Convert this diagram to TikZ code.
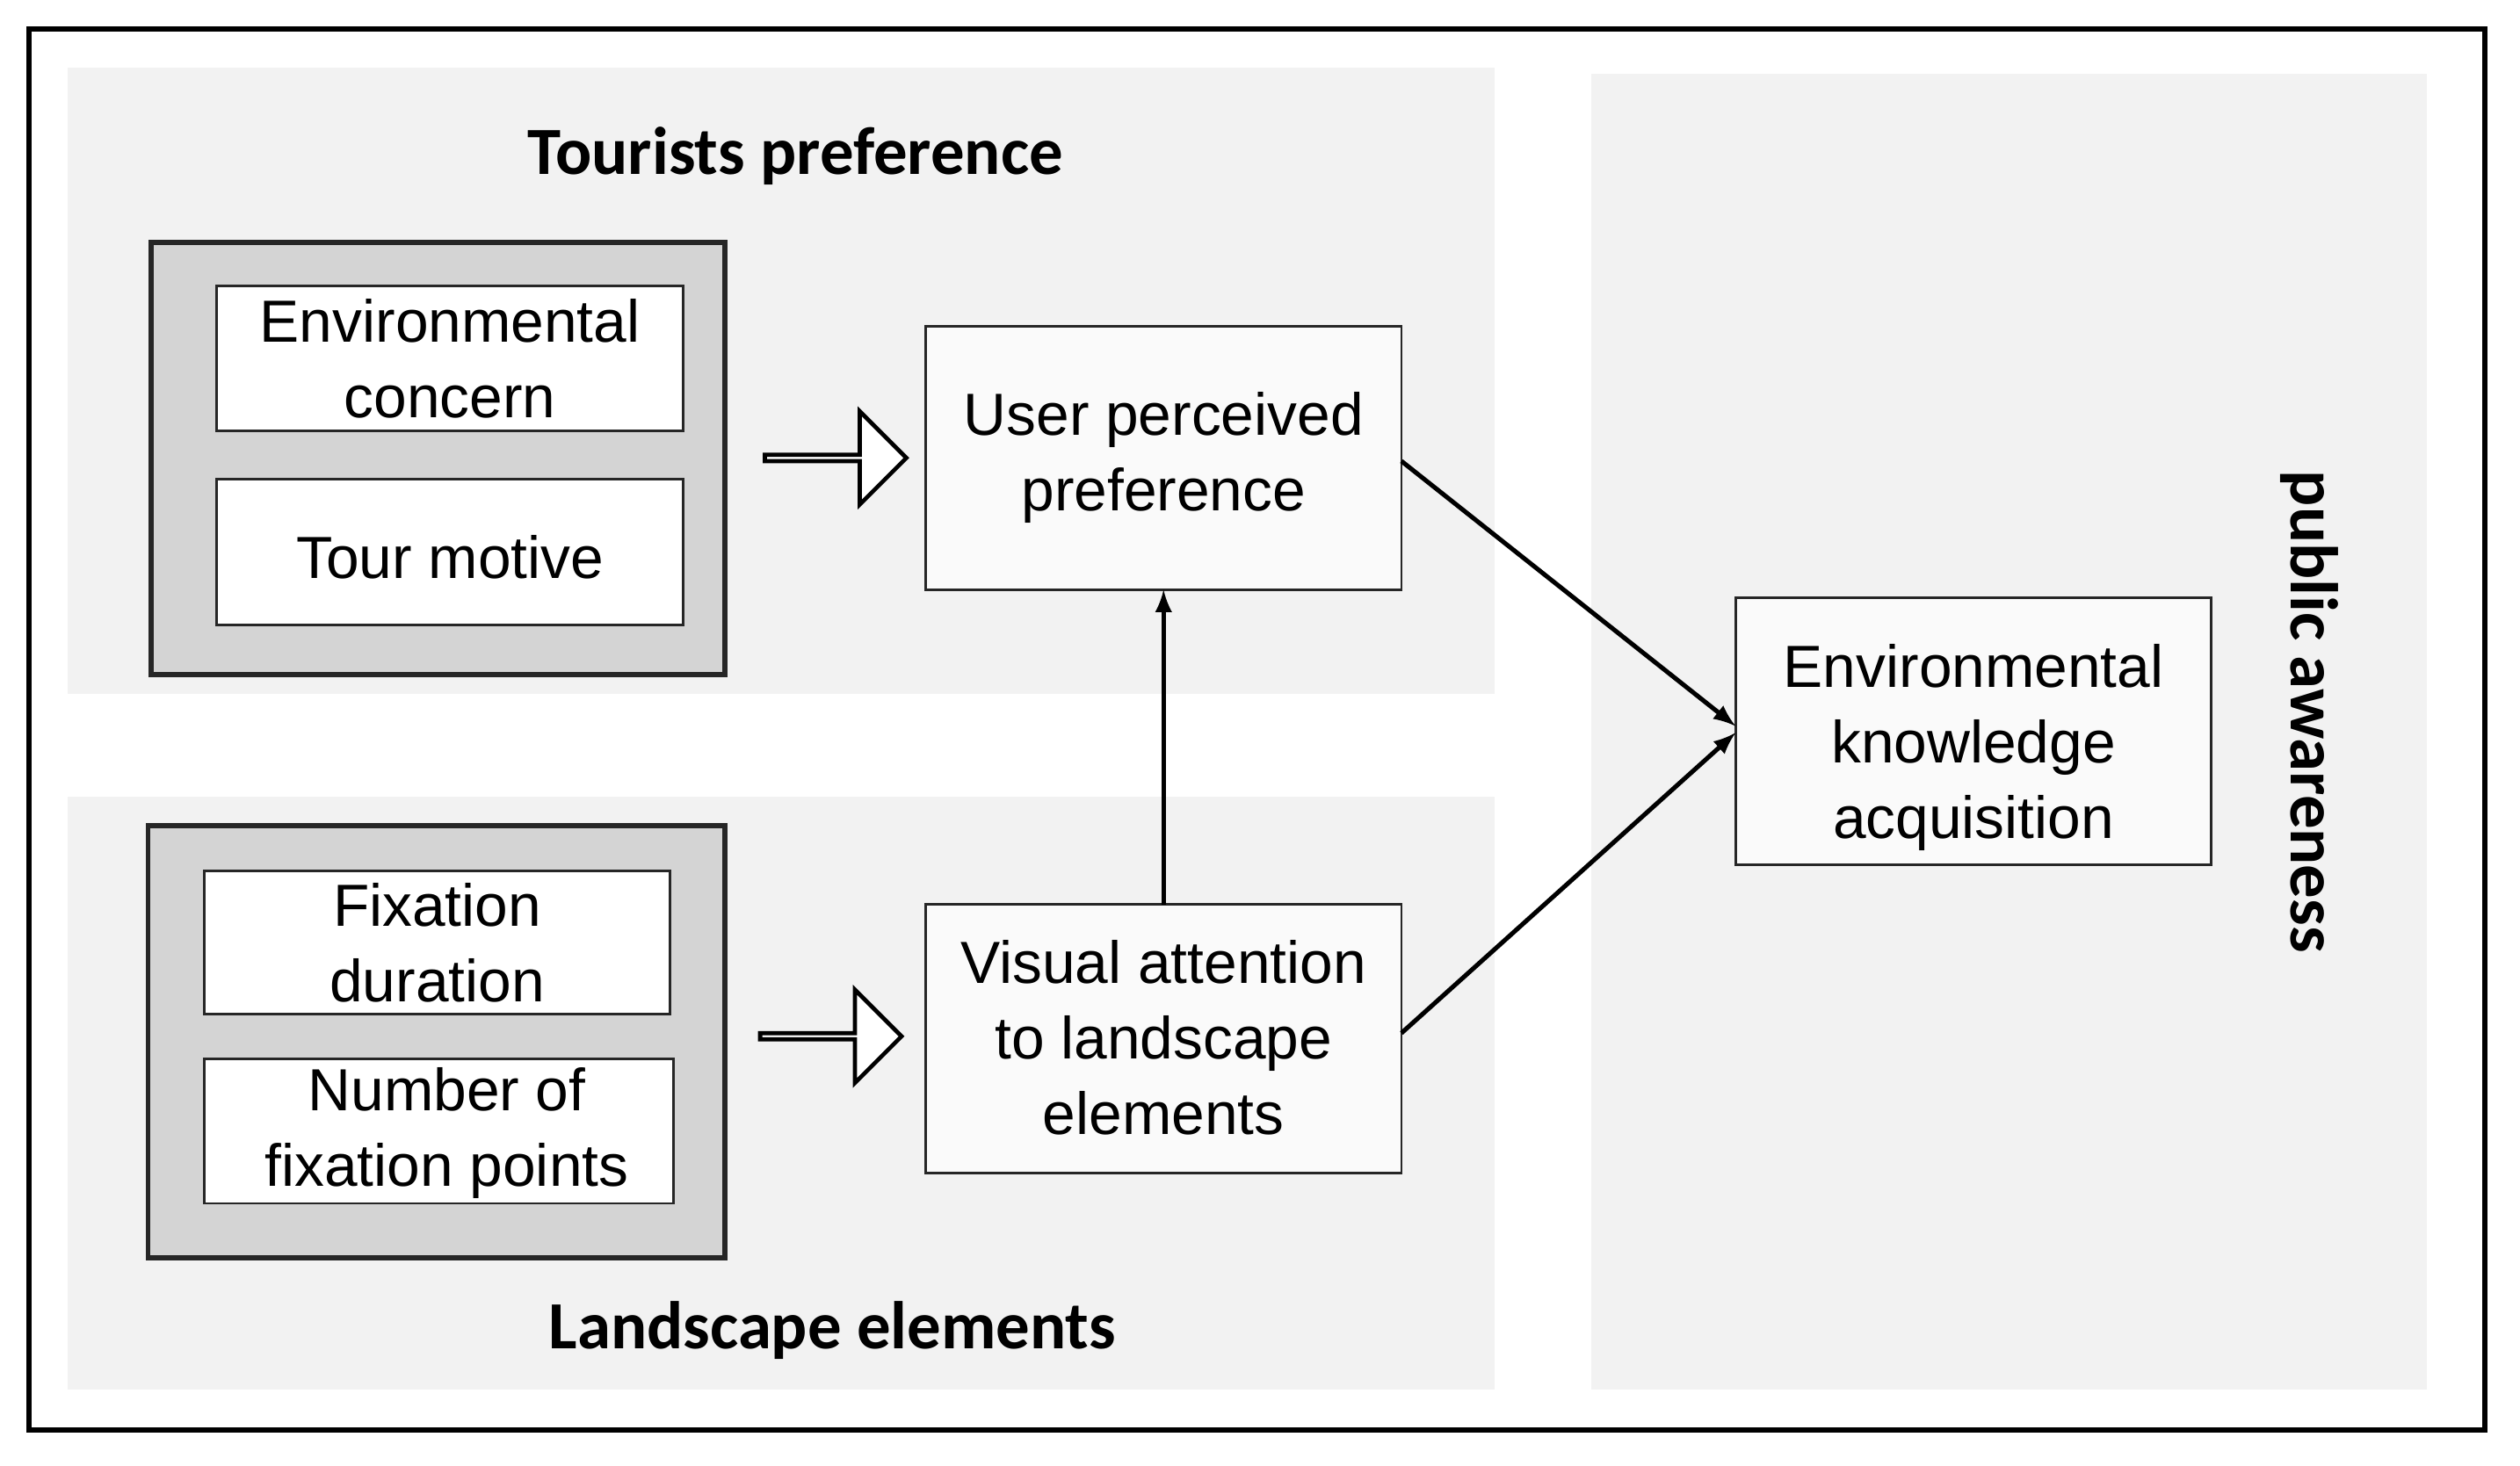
\documentclass[tikz,border=0pt]{standalone}
\usepackage{fontspec}
\setmainfont{Liberation Sans}
\newfontfamily\titlefont{Carlito}
\usetikzlibrary{shapes.arrows}
\begin{document}
\begin{tikzpicture}[x=0.5pt,y=-0.5pt,
  panel/.style={fill=black!5,draw=none},
  grp/.style={fill=black!17,draw=black!85,line width=1.5pt},
  inner/.style={fill=white,draw=black!85,line width=0.8pt},
  box/.style={fill=white!60!black!5,draw=black!85,line width=0.8pt},
  txt/.style={align=center,font=\fontsize{18.5}{23.5}\selectfont},
  ttl/.style={font=\titlefont\bfseries\fontsize{21}{25}\selectfont},
  conn/.style={-latex,line width=1.4pt},
  barrow/.style={single arrow,draw=black,line width=1.3pt,fill=white,minimum height=44pt,single arrow head extend=9pt,minimum width=29pt,inner sep=0pt,single arrow head indent=0pt}]
\useasboundingbox (0,0) rectangle (1568,912);
\fill[white] (0,0) rectangle (1568,912);
\draw[line width=1.6pt] (18,18) rectangle (1546,890);
\fill[panel] (42,42) rectangle (930,432);
\fill[panel] (42,496) rectangle (930,865);
\fill[panel] (990,46) rectangle (1510,865);
\node[ttl] (t1) at (495,97) {Tourists preference};
\node[ttl] (t2) at (518,828) {Landscape elements};
\node[ttl,rotate=-90] (t3) at (1437,443) {public awareness};
\draw[grp] (94,151) rectangle (451,420);
\draw[inner] (135,178) rectangle (425,268); \node[txt] (ec) at (280,223) {Environmental\\concern};
\draw[inner] (135,298) rectangle (425,389); \node[txt] (tm) at (280,347) {Tour motive};
\draw[grp] (92,514) rectangle (451,783);
\draw[inner] (127,542) rectangle (417,631); \node[txt] (fd) at (272,587) {Fixation\\duration};
\draw[inner] (127,659) rectangle (419,749); \node[txt] (nf) at (278,705) {Number of\\fixation points};
\node[barrow] (a1) at (519,285) {};
\node[barrow] (a2) at (516,645) {};
\draw[box] (576,203) rectangle (872,367); \node[txt] (up) at (724,285) {User perceived\\preference};
\draw[box] (576,563) rectangle (872,730); \node[txt] (va) at (724,646) {Visual attention\\to landscape\\elements};
\draw[box] (1080,372) rectangle (1376,538); \node[txt] (ek) at (1228,465) {Environmental\\knowledge\\acquisition};
\coordinate (vaT) at (724,563); \coordinate (upB) at (724,367);
\coordinate (upR) at (872,287); \coordinate (vaR) at (872,643);
\coordinate (ekL1) at (1080,452); \coordinate (ekL2) at (1080,456);
\draw[conn] (vaT) -- (upB);
\draw[conn] (upR) -- (ekL1);
\draw[conn] (vaR) -- (ekL2);
\end{tikzpicture}
\end{document}
